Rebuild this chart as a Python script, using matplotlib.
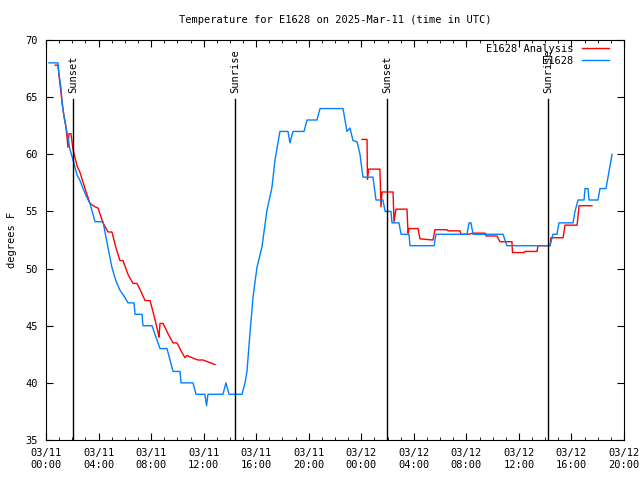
import matplotlib
matplotlib.use('Agg')
import matplotlib.pyplot as plt
import matplotlib.dates as mdates
import pandas as pd

# hours since 2025-03-11 00:00 UTC
start = pd.Timestamp("2025-03-11 00:00")

obs_hours = [0.23, 0.91, 0.99, 1.14, 1.22, 1.37, 1.60, 1.83, 2.06, 2.36, 2.59, 2.82,
             3.12, 3.35, 3.73, 4.34, 4.64, 5.02, 5.33, 5.63, 5.94, 6.24, 6.70, 6.78,
             7.31, 7.38, 8.07, 8.37, 8.68, 9.21, 9.44, 9.67, 10.20, 10.28, 11.19, 11.42,
             12.10, 12.22, 12.33, 13.47, 13.70, 13.93, 14.92, 15.15, 15.30, 15.53, 15.76,
             16.06, 16.44, 16.82, 17.20, 17.43, 17.81, 18.42, 18.57, 18.80, 19.64, 19.87,
             20.63, 20.86, 22.61, 22.91, 23.14, 23.37, 23.68, 23.90, 24.13, 24.89, 25.12,
             25.65, 25.81, 26.26, 26.34, 26.87, 27.03, 27.63, 27.71, 29.54, 29.69, 32.05,
             32.20, 32.35, 32.51, 34.79, 35.09, 38.37, 38.59, 38.90, 39.05, 40.12, 40.27,
             40.50, 40.96, 41.03, 41.26, 41.34, 42.02, 42.17, 42.63, 43.09]
obs_temp = [68.0, 68.0, 67.0, 65.8, 64.6, 63.3, 61.9, 60.4, 59.5, 58.2, 57.7, 57.0,
            56.2, 55.7, 54.1, 54.1, 52.3, 50.1, 48.9, 48.1, 47.6, 47.0, 47.0, 46.0,
            46.0, 45.0, 45.0, 44.0, 43.0, 43.0, 42.0, 41.0, 41.0, 40.0, 40.0, 39.0,
            39.0, 38.0, 39.0, 39.0, 40.0, 39.0, 39.0, 40.0, 41.0, 44.4, 47.5,
            50.1, 51.9, 55.1, 57.1, 59.5, 62.0, 62.0, 61.0, 62.0, 62.0, 63.0,
            63.0, 64.0, 64.0, 62.0, 62.3, 61.2, 61.1, 60.0, 58.0, 58.0, 56.0,
            56.0, 55.0, 55.0, 54.0, 54.0, 53.0, 53.0, 52.0, 52.0, 53.0, 53.0,
            54.0, 54.0, 53.0, 53.0, 52.0, 52.0, 53.0, 53.0, 54.0, 54.0, 55.0,
            56.0, 56.0, 57.0, 57.0, 56.0, 56.0, 57.0, 57.0, 60.0]

ana1_hours = [0.69, 0.91, 0.99, 1.29, 1.52, 1.60, 1.67, 1.75, 1.90, 2.06, 2.36, 2.59,
              2.97, 3.35, 3.73, 3.96, 4.34, 4.72, 5.02, 5.33, 5.63, 5.86, 6.24, 6.62,
              6.93, 7.23, 7.54, 7.92, 8.22, 8.53, 8.60, 8.68, 8.91, 9.29, 9.67, 9.97,
              10.28, 10.58, 10.73, 11.11, 11.57, 11.95, 12.41, 12.87]
ana1_temp = [67.8, 67.8, 66.9, 63.9, 62.4, 61.5, 60.6, 61.8, 61.8, 60.4, 59.0, 58.4,
             57.0, 55.7, 55.4, 55.3, 54.0, 53.2, 53.2, 51.8, 50.7, 50.7, 49.5, 48.7,
             48.7, 48.0, 47.2, 47.2, 45.9, 44.4, 44.0, 45.2, 45.2, 44.3, 43.5, 43.5,
             42.8, 42.2, 42.4, 42.2, 42.0, 42.0, 41.8, 41.6]

ana2_hours = [24.06, 24.44, 24.47, 24.55, 25.42, 25.50, 25.58, 26.42, 26.49, 26.64,
              27.48, 27.56, 27.63, 28.32, 28.47, 29.46, 29.61, 30.52, 30.60, 31.52,
              31.59, 32.13, 32.51, 33.42, 33.50, 34.33, 34.56, 35.47, 35.51, 36.39,
              36.47, 37.38, 37.45, 38.37, 38.44, 39.36, 39.51, 40.43, 40.58, 41.56]
ana2_temp = [61.3, 61.3, 57.8, 58.7, 58.7, 55.4, 56.7, 56.7, 54.1, 55.2,
             55.2, 53.1, 53.5, 53.5, 52.6, 52.5, 53.4, 53.4, 53.3, 53.3,
             53.0, 53.0, 53.1, 53.1, 52.85, 52.85, 52.35, 52.35, 51.4, 51.4,
             51.5, 51.5, 52.0, 52.0, 52.7, 52.7, 53.8, 53.8, 55.5, 55.5]

sun_hours = [2.06, 14.41, 25.97, 38.23]
sun_labels = ["Sunset", "Sunrise", "Sunset", "Sunrise"]

def to_time(hours):
    return [start + pd.Timedelta(hours=h) for h in hours]

plt.rcParams['font.family'] = 'DejaVu Sans Mono'
plt.rcParams['font.size'] = 7.5

fig = plt.figure(figsize=(6.4, 4.8), dpi=100)
ax = fig.add_axes([46/640, 40/480, 578/640, 400/480])

ax.plot(to_time(ana1_hours), ana1_temp, color='#ff0000', lw=1.0, label='E1628 Analysis')
ax.plot(to_time(ana2_hours), ana2_temp, color='#ff0000', lw=1.0)
ax.plot(to_time(obs_hours), obs_temp, color='#0080ff', lw=1.0, label='E1628')

for h, lab in zip(sun_hours, sun_labels):
    t = start + pd.Timedelta(hours=h)
    ax.axvline(t, ymin=0, ymax=0.8525, color='black', lw=1.0)
    ax.text(t, 0.8675, lab, transform=ax.get_xaxis_transform(), rotation=90,
            ha='center', va='bottom')

ax.set_xlim(start, start + pd.Timedelta(hours=44))
ax.set_ylim(35, 70)
ax.set_yticks(range(35, 71, 5))
ax.xaxis.set_major_locator(mdates.HourLocator(byhour=range(0, 24, 4)))
ax.xaxis.set_minor_locator(mdates.HourLocator())
ax.xaxis.set_major_formatter(mdates.DateFormatter('%m/%d\n%H:%M'))
ax.tick_params(which='both', direction='in', top=True, right=True)
ax.tick_params(which='major', length=5, pad=6)
ax.tick_params(which='minor', length=2.5)

ax.set_title("Temperature for E1628 on 2025-Mar-11 (time in UTC)", fontsize=7.5, pad=12)
ax.set_ylabel("degrees F", labelpad=6)
ax.legend(loc='upper right', bbox_to_anchor=(0.974, 0.99), frameon=False,
          markerfirst=False, handlelength=2.6, handletextpad=0.8,
          borderpad=0, borderaxespad=0, labelspacing=0.2)

fig.savefig("out.png", dpi=100)
